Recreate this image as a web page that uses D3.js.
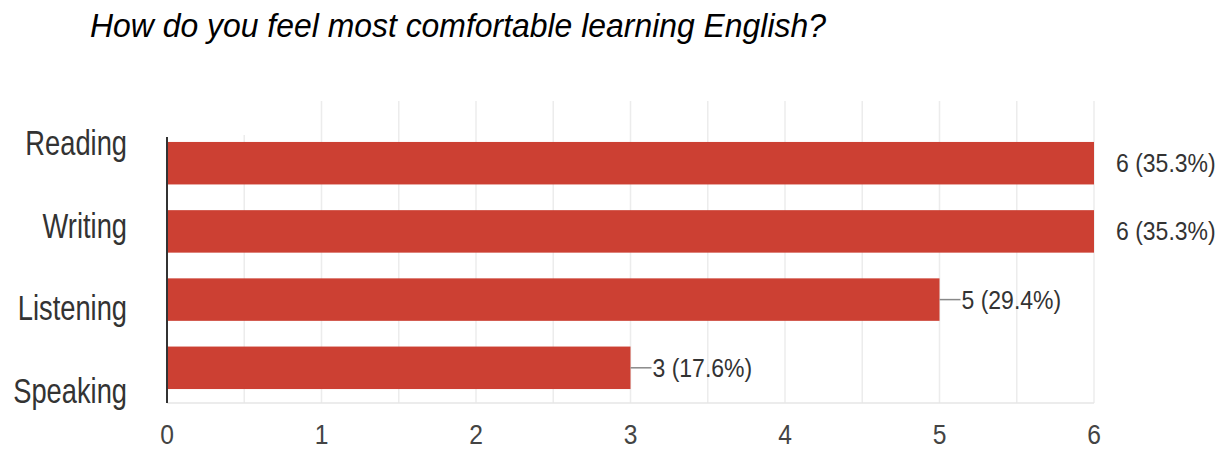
<!DOCTYPE html>
<html>
<head>
<meta charset="utf-8">
<script src="https://cdn.jsdelivr.net/npm/d3@7"></script>
<style>
  html, body { margin: 0; padding: 0; background: #fff; }
  svg { display: block; font-family: "Liberation Sans", Arial, sans-serif; }
</style>
</head>
<body>
<svg id="chart" width="1231" height="450"></svg>
<script>
// Survey responses (multiple answers allowed)
const title = "How do you feel most comfortable learning English?";
const categories = ["Reading", "Writing", "Listening", "Speaking"];
const counts = [6, 6, 5, 3];
const respondents = 17;
const xTicks = [0, 1, 2, 3, 4, 5, 6];

const svg = d3.select("#chart");

const x = d3.scaleLinear().domain([0, 6]).range([167, 1094]);
const y = d3.scaleBand().domain(categories).range([129, 402])
  .paddingInner(0.377).paddingOuter(0.19);
// category labels sit on their own evenly spread baselines
const yLabel = d3.scalePoint().domain(categories).range([155, 403]);

// horizontally condensed text helper
function label(g, txt, px, py, opts) {
  return g.append("text")
    .attr("transform", `translate(${px},${py}) scale(${opts.sx},1)`)
    .attr("font-size", opts.size)
    .attr("font-style", opts.italic ? "italic" : null)
    .attr("text-anchor", opts.anchor || "start")
    .attr("fill", opts.fill || "#333")
    .text(txt);
}

// title
label(svg, title, 90, 37, { size: 33, sx: 0.967, italic: true, fill: "#000" });

// vertical gridlines every half unit
const grid = svg.append("g");
grid.selectAll("line")
  .data(d3.range(0.5, 6.01, 0.5))
  .join("line")
  .attr("x1", d => x(d)).attr("x2", d => x(d))
  .attr("y1", d => d === 0.5 ? 135 : 101).attr("y2", 403)
  .attr("stroke", "#ececec").attr("stroke-width", 1.5);
// bottom baseline
grid.append("line")
  .attr("x1", x(0)).attr("x2", x(6))
  .attr("y1", 403).attr("y2", 403)
  .attr("stroke", "#e6e6e6").attr("stroke-width", 1.5);

// bars
svg.append("g").selectAll("rect")
  .data(categories)
  .join("rect")
  .attr("x", x(0))
  .attr("y", d => y(d))
  .attr("width", (d, i) => x(counts[i]) - x(0))
  .attr("height", y.bandwidth())
  .attr("fill", "#cc4033");

// vertical axis line
svg.append("line")
  .attr("x1", x(0)).attr("x2", x(0))
  .attr("y1", 137).attr("y2", 403)
  .attr("stroke", "#333").attr("stroke-width", 2);

// category labels
const cat = svg.append("g");
categories.forEach(c => label(cat, c, 127, yLabel(c), { size: 35, sx: 0.78, anchor: "end" }));

// x tick labels
const ticks = svg.append("g");
xTicks.forEach(t => label(ticks, String(t), x(t), 444, { size: 28, sx: 0.88, anchor: "middle", fill: "#444" }));

// value labels with leader lines
const vals = svg.append("g");
categories.forEach((c, i) => {
  const v = counts[i];
  const cy = y(c) + y.bandwidth() / 2;
  const end = x(v);
  if (v < x.domain()[1]) {
    vals.append("line")
      .attr("x1", end).attr("x2", end + 21)
      .attr("y1", cy).attr("y2", cy)
      .attr("stroke", "#888").attr("stroke-width", 1.5);
  }
  const pct = (v / respondents * 100).toFixed(1);
  label(vals, `${v} (${pct}%)`, end + 22, cy + 9, { size: 25, sx: 0.92 });
});
</script>
</body>
</html>
